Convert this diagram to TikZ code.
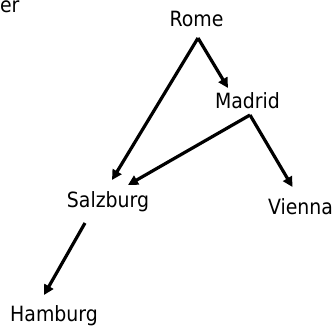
\documentclass[tikz,border=0pt]{standalone}
\usepackage{fontspec}
\setmainfont{DejaVu Sans Condensed}
\usetikzlibrary{arrows.meta,calc}
\tikzset{
  city/.style={anchor=base, inner sep=0pt, outer sep=0pt,
    font=\fontsize{21}{25}\selectfont},
  link/.style={line width=3.2pt, -{Triangle[length=10pt,width=10pt]}}
}
\begin{document}
\begin{tikzpicture}[x=1pt,y=-1pt]
  \useasboundingbox (0,0) rectangle (335,329);
  % partly hidden caption at the top left
  \node[city, anchor=base west, text height=11pt] (cap) at (0,12.5) {er};
  % cities
  \node[city] (rome)  at (196.5,27)  {Rome};
  \node[city] (mad)   at (247.5,108.5) {Madrid};
  \node[city] (salz)  at (108,207)   {Salzburg};
  \node[city] (vie)   at (300.5,214) {Vienna};
  \node[city] (ham)   at (54,321.5)  {Hamburg};
  % connections
  \coordinate (romeout) at ($(rome.base)+(1.5,11)$);
  \coordinate (madout)  at ($(mad.base)+(2.5,6.5)$);
  \coordinate (salzout) at ($(salz.base)+(-23,16)$);
  \draw[link] (romeout) -- ($(mad.base)+(-19.5,-20.5)$);
  \draw[link] (romeout) -- ($(salz.base)+(4,-27)$);
  \draw[link] (madout)  -- ($(salz.base)+(20,-22)$);
  \draw[link] (madout)  -- ($(vie.base)+(-8,-27)$);
  \draw[link] (salzout) -- ($(ham.base)+(-10,-26.5)$);
\end{tikzpicture}
\end{document}
